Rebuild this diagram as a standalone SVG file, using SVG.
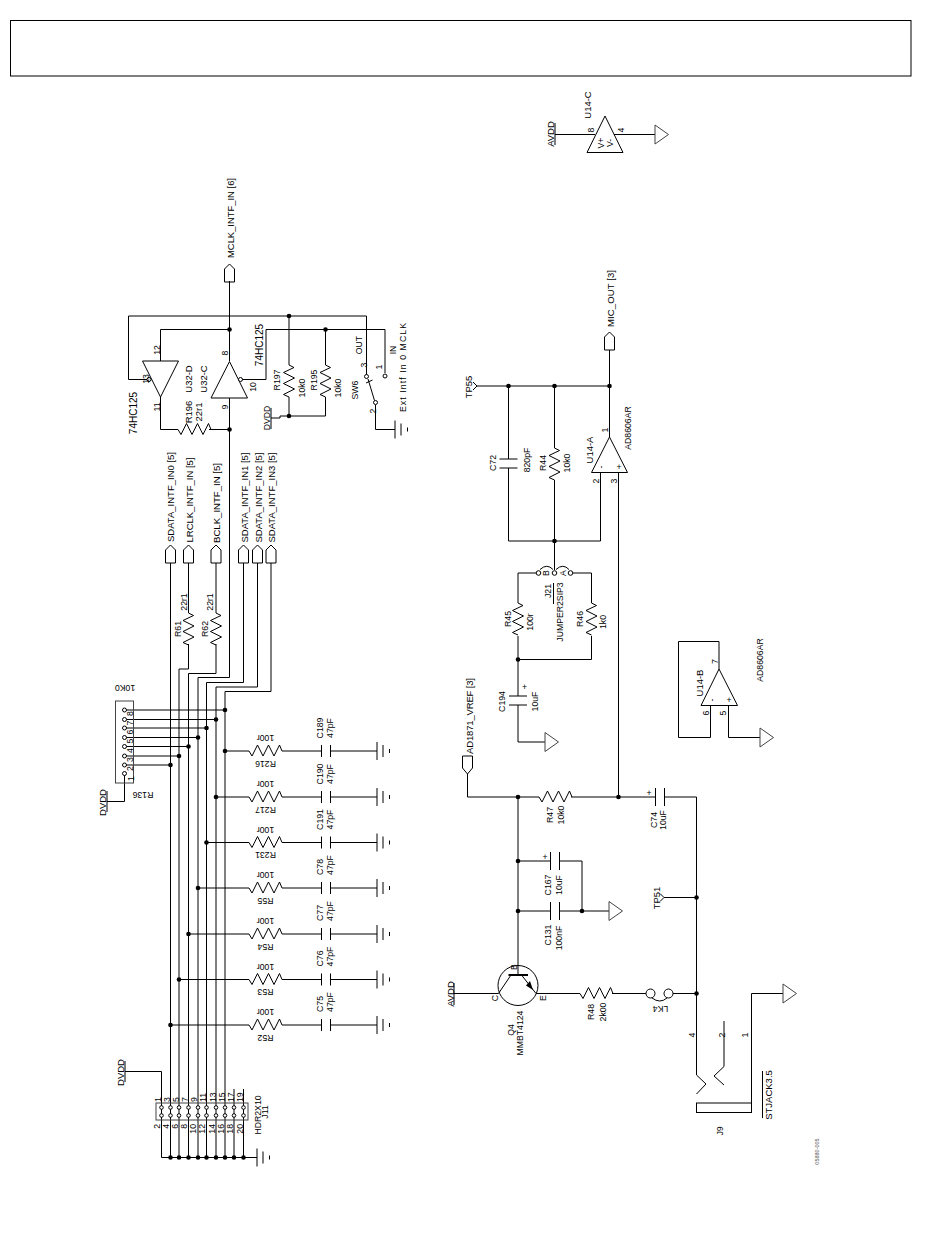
<svg xmlns="http://www.w3.org/2000/svg" width="950" height="1254" viewBox="0 0 950 1254">
<style>
text{font-family:"Liberation Sans",Arial,sans-serif;font-size:9.5px;fill:#000;text-anchor:middle;dominant-baseline:central}
.s{font-size:8.700px}.b{font-size:10px}.xs{font-size:5.500px;fill:#555}
.l,path,line,polyline,rect{fill:none;stroke:#000;stroke-width:1}
.dot{fill:#000;stroke:none}
.pin{fill:#fff;stroke:#000;stroke-width:1}
.gr{stroke:#444}
.thick{stroke-width:2}
</style>
<defs>
<path id="rh" d="M0 0l3 5 5.500-11 5.500 11 5.500-11 5.500 11 5.500-11 2.500 6"/>
<path id="rv" d="M0 0l5 2.500-10.500 5 11 5.500-11 5.500 11 5.500-11 5.500 5.500 2.500"/>
<g id="capS"><line x1="0" y1="-6" x2="0" y2="6"/><line x1="9" y1="-6" x2="9" y2="6"/></g>
<g id="capH"><line x1="0" y1="-9" x2="0" y2="9"/><line x1="9" y1="-9" x2="9" y2="9"/></g>
<g id="capV"><line x1="-9" y1="0" x2="9" y2="0"/><line x1="-9" y1="9" x2="9" y2="9"/></g>
<g id="gnd"><line x1="0" y1="-9" x2="0" y2="9"/><line x1="6" y1="-6" x2="6" y2="6"/><line x1="12.500" y1="-2" x2="12.500" y2="2"/></g>
<path id="tri" class="gr" d="M0-9.500L13.500 0 0 9.500Z"/>
<path id="port" d="M-5 18V5L0 0 5 5V18Z"/>
</defs>

<g id="title-frame"><rect x="10.500" y="20.500" width="900.500" height="55.500" stroke-width="1.500"/></g>

<g id="connectors">
<polyline points="555,134.500 595,134.500"/>
<polyline points="614,134.500 655,134.500"/>
<polyline points="170.500,563 170.500,1157.500"/>
<polyline points="188.500,563 188.500,613"/><polyline points="188.500,644 188.500,669 179,669 179,1157.500"/>
<polyline points="216,563 216,613"/><polyline points="216,644 216,673.500 188.500,673.500 188.500,1157.500"/>
<polyline points="229.500,281 229.500,361"/>
<polyline points="229.500,398 229.500,677.500 198,677.500 198,1157.500"/>
<polyline points="243.500,563 243.500,682.500 206.500,682.500 206.500,1157.500"/>
<polyline points="257.500,563 257.500,687 216,687 216,1157.500"/>
<polyline points="271,563 271,691.500 225,691.500 225,1157.500"/>
<polyline points="234,1089 234,1157.500"/>
<polyline points="243.500,1089 243.500,1157.500"/>
<polyline points="125,1071.500 161.500,1071.500 161.500,1157.500 257,1157.500"/>
<line x1="124.500" y1="710" x2="225" y2="710"/>
<line x1="124.500" y1="719.500" x2="216" y2="719.500"/>
<line x1="124.500" y1="728" x2="206.500" y2="728"/>
<line x1="124.500" y1="737.500" x2="198" y2="737.500"/>
<line x1="124.500" y1="746.500" x2="188.500" y2="746.500"/>
<line x1="124.500" y1="756" x2="179" y2="756"/>
<line x1="124.500" y1="765" x2="170.500" y2="765"/>
<polyline points="107,801.500 124.500,801.500 124.500,775"/>
<path d="M225 751H249M282 751H321.500M330.500 751H377"/>
<path d="M216 797H249M282 797H321.500M330.500 797H377"/>
<path d="M206.500 842.500H249M282 842.500H321.500M330.500 842.500H377"/>
<path d="M198 888H249M282 888H321.500M330.500 888H377"/>
<path d="M188.500 934H249M282 934H321.500M330.500 934H377"/>
<path d="M179 979.500H249M282 979.500H321.500M330.500 979.500H377"/>
<path d="M170.500 1025H249M282 1025H321.500M330.500 1025H377"/>
<polyline points="147,379.500 128.500,379.500 128.500,316 366.500,316 366.500,375"/>
<polyline points="160.500,361 160.500,329.500 229.500,329.500"/>
<polyline points="242,379.500 266,379.500 266,329.500 385,329.500 385,373"/>
<polyline points="160.500,397 160.500,429.500 178,429.500"/>
<polyline points="209,429.500 229.500,429.500"/>
<polyline points="289,316 289,365"/><polyline points="289,397 289,416"/>
<polyline points="325.500,329.500 325.500,365"/><polyline points="325.500,397 325.500,416 289,416 280,416 280,418 271,418"/>
<polyline points="375.500,405 375.500,429.500 395,429.500"/>
<polyline points="477,386 609.500,386"/>
<polyline points="609.500,350 609.500,437"/>
<polyline points="508.500,386 508.500,459"/><polyline points="508.500,468 508.500,541 600.500,541 600.500,472"/>
<polyline points="554.500,386 554.500,448"/><polyline points="554.500,480 554.500,570"/>
<polyline points="618.500,472 618.500,797"/>
<polyline points="536,573 518,573 518,603"/>
<polyline points="573,573 591.500,573 591.500,603"/>
<polyline points="518,636 518,696"/><polyline points="518,705 518,742 545,742"/>
<polyline points="591.500,636 591.500,659.500 518,659.500"/>
<polyline points="719,669 719,641.500 678.500,641.500 678.500,737.500 710.500,737.500 710.500,705"/>
<polyline points="728.500,705 728.500,737.500 760,737.500"/>
<polyline points="467.500,774 467.500,797 539,797"/>
<polyline points="571,797 655.500,797"/>
<polyline points="664.500,797 696.500,797 696.500,1075"/>
<polyline points="518,797 518,975"/>
<polyline points="518,861 550.500,861"/>
<polyline points="559.500,861 582,861 582,911"/>
<polyline points="518,911 550.500,911"/>
<polyline points="559.500,911 609,911"/>
<polyline points="664,897.500 696.500,897.500"/>
<polyline points="454,993.500 498.500,993.500"/>
<polyline points="536,993.500 580,993.500"/>
<polyline points="612,993.500 646,993.500"/>
<polyline points="673,993.500 696.500,993.500"/>
<polyline points="751.500,1103 751.500,993.500 783,993.500"/>
</g>

<g id="dots">
<circle class="dot" cx="225" cy="710" r="2.300"/><circle class="dot" cx="216" cy="719.500" r="2.300"/><circle class="dot" cx="206.500" cy="728" r="2.300"/><circle class="dot" cx="198" cy="737.500" r="2.300"/><circle class="dot" cx="188.500" cy="746.500" r="2.300"/><circle class="dot" cx="179" cy="756" r="2.300"/><circle class="dot" cx="170.500" cy="765" r="2.300"/>
<circle class="dot" cx="225" cy="751" r="2.300"/><circle class="dot" cx="216" cy="797" r="2.300"/><circle class="dot" cx="206.500" cy="842.500" r="2.300"/><circle class="dot" cx="198" cy="888" r="2.300"/><circle class="dot" cx="188.500" cy="934" r="2.300"/><circle class="dot" cx="179" cy="979.500" r="2.300"/><circle class="dot" cx="170.500" cy="1025" r="2.300"/>
<circle class="dot" cx="170.500" cy="1157.500" r="2.300"/><circle class="dot" cx="179" cy="1157.500" r="2.300"/><circle class="dot" cx="188.500" cy="1157.500" r="2.300"/><circle class="dot" cx="198" cy="1157.500" r="2.300"/><circle class="dot" cx="206.500" cy="1157.500" r="2.300"/><circle class="dot" cx="216" cy="1157.500" r="2.300"/><circle class="dot" cx="225" cy="1157.500" r="2.300"/><circle class="dot" cx="234" cy="1157.500" r="2.300"/><circle class="dot" cx="243.500" cy="1157.500" r="2.300"/>
<circle class="dot" cx="229.500" cy="329.500" r="2.300"/><circle class="dot" cx="229.500" cy="429.500" r="2.300"/><circle class="dot" cx="289" cy="316" r="2.300"/><circle class="dot" cx="325.500" cy="329.500" r="2.300"/><circle class="dot" cx="289" cy="416" r="2.300"/>
<circle class="dot" cx="508.500" cy="386" r="2.300"/><circle class="dot" cx="554.500" cy="386" r="2.300"/><circle class="dot" cx="609.500" cy="386" r="2.300"/><circle class="dot" cx="554.500" cy="541" r="2.300"/><circle class="dot" cx="518" cy="659.500" r="2.300"/>
<circle class="dot" cx="518" cy="797" r="2.300"/><circle class="dot" cx="618.500" cy="797" r="2.300"/><circle class="dot" cx="518" cy="861" r="2.300"/><circle class="dot" cx="518" cy="911" r="2.300"/><circle class="dot" cx="582" cy="911" r="2.300"/><circle class="dot" cx="696.500" cy="897.500" r="2.300"/><circle class="dot" cx="696.500" cy="993.500" r="2.300"/>
</g>

<g id="U14-C">
<path d="M605 116L623 152.500H587Z"/>
<line x1="555" y1="123" x2="555" y2="145"/>
<use href="#tri" x="655" y="134.500"/>
<text transform="rotate(-90 550.500 134)" x="550.500" y="134">AVDD</text>
<text transform="rotate(-90 587 105)" x="587" y="105">U14-C</text>
<text class="s" transform="rotate(-90 591 130)" x="591" y="130">8</text>
<text class="s" transform="rotate(-90 621 130)" x="621" y="130">4</text>
<text class="s" transform="rotate(-90 600.500 143)" x="600.500" y="143">V+</text>
<text class="s" transform="rotate(-90 610 143)" x="610" y="143">V-</text>
</g>

<g id="MCLK_INTF_IN"><use href="#port" x="229.500" y="264"/><text textLength="80" lengthAdjust="spacingAndGlyphs" transform="rotate(-90 230 218)" x="230" y="218">MCLK_INTF_IN [6]</text></g>
<g id="SDATA_INTF_IN0"><use href="#port" x="170.500" y="545"/><text textLength="90" lengthAdjust="spacingAndGlyphs" transform="rotate(-90 170.500 497)" x="170.500" y="497">SDATA_INTF_IN0 [5]</text></g>
<g id="LRCLK_INTF_IN"><use href="#port" x="188.500" y="545"/><text textLength="85" lengthAdjust="spacingAndGlyphs" transform="rotate(-90 189 500)" x="189" y="500">LRCLK_INTF_IN [5]</text></g>
<g id="BCLK_INTF_IN"><use href="#port" x="216" y="545"/><text textLength="80" lengthAdjust="spacingAndGlyphs" transform="rotate(-90 216.500 503)" x="216.500" y="503">BCLK_INTF_IN [5]</text></g>
<g id="SDATA_INTF_IN1"><use href="#port" x="243.500" y="545"/><text textLength="90" lengthAdjust="spacingAndGlyphs" transform="rotate(-90 244 497.500)" x="244" y="497.500">SDATA_INTF_IN1 [5]</text></g>
<g id="SDATA_INTF_IN2"><use href="#port" x="257.500" y="545"/><text textLength="90" lengthAdjust="spacingAndGlyphs" transform="rotate(-90 258 497.500)" x="258" y="497.500">SDATA_INTF_IN2 [5]</text></g>
<g id="SDATA_INTF_IN3"><use href="#port" x="271" y="545"/><text textLength="90" lengthAdjust="spacingAndGlyphs" transform="rotate(-90 271.500 497.500)" x="271.500" y="497.500">SDATA_INTF_IN3 [5]</text></g>

<g id="U32-D">
<path d="M142.500 361H178.500L160.500 397Z"/>
<circle class="pin" cx="149" cy="379.500" r="2"/>
<text class="s" transform="rotate(-90 157 350)" x="157" y="350">12</text>
<text class="s" transform="rotate(-90 157 407)" x="157" y="407">11</text>
<text class="s" transform="rotate(-90 146 379)" x="146" y="379">13</text>
<text transform="rotate(-90 188 379)" x="188" y="379">U32-D</text>
<text class="b" transform="rotate(-90 133 413)" x="133" y="413">74HC125</text>
</g>
<g id="U32-C">
<path d="M229.500 361.500L247.500 398H211Z"/>
<circle class="pin" cx="240.500" cy="379.500" r="2"/>
<text class="s" transform="rotate(-90 225 353)" x="225" y="353">8</text>
<text class="s" transform="rotate(-90 225 407)" x="225" y="407">9</text>
<text class="s" transform="rotate(-90 253 387)" x="253" y="387">10</text>
<text transform="rotate(-90 203 379)" x="203" y="379">U32-C</text>
<text class="b" transform="rotate(-90 259 345)" x="259" y="345">74HC125</text>
</g>
<g id="R196"><use href="#rh" x="178" y="429.500"/>
<text transform="rotate(-90 188 412)" x="188" y="412">R196</text>
<text transform="rotate(-90 198 412)" x="198" y="412">22r1</text></g>
<g id="R197"><use href="#rv" x="289" y="365"/>
<text class="s" transform="rotate(-90 277 380)" x="277" y="380">R197</text>
<text class="s" transform="rotate(-90 301.500 388)" x="301.500" y="388">10k0</text></g>
<g id="R195"><use href="#rv" x="325.500" y="365"/>
<text class="s" transform="rotate(-90 314 380)" x="314" y="380">R195</text>
<text class="s" transform="rotate(-90 337.500 388)" x="337.500" y="388">10k0</text></g>
<g id="DVDD-sw"><line x1="271" y1="408" x2="271" y2="429"/><text class="s" transform="rotate(-90 266.500 418)" x="266.500" y="418">DVDD</text></g>
<g id="SW6">
<circle class="pin" cx="366.500" cy="376.500" r="2"/><circle class="pin" cx="385" cy="376" r="2"/><circle class="pin" cx="375.500" cy="402.500" r="2"/>
<line x1="374.500" y1="400.500" x2="368" y2="379"/><path d="M366 383L372.500 380"/>
<use href="#gnd" x="395" y="429.500"/>
<text class="s" transform="rotate(-90 355 390)" x="355" y="390">SW6</text>
<text class="s" transform="rotate(-90 359 345)" x="359" y="345">OUT</text>
<text class="s" transform="rotate(-90 393 350)" x="393" y="350">IN</text>
<text class="s" transform="rotate(-90 364 365)" x="364" y="365">3</text>
<text class="s" transform="rotate(-90 379 367)" x="379" y="367">1</text>
<text class="s" transform="rotate(-90 372.500 411)" x="372.500" y="411">2</text>
<text textLength="89" lengthAdjust="spacing" class="s" transform="rotate(-90 403 367.500)" x="403" y="367.500">Ext Intf In 0 MCLK</text>
</g>
<g id="R61"><use href="#rv" x="188.500" y="613"/><text class="s" transform="rotate(-90 178 629)" x="178" y="629">R61</text><text class="s" transform="rotate(-90 184 602)" x="184" y="602">22r1</text></g>
<g id="R62"><use href="#rv" x="216" y="613"/><text class="s" transform="rotate(-90 205 629)" x="205" y="629">R62</text><text class="s" transform="rotate(-90 210 602)" x="210" y="602">22r1</text></g>

<g id="R136">
<rect class="gr" x="115.500" y="701" width="18" height="82"/>
<circle class="pin" cx="124.500" cy="710" r="2"/><circle class="pin" cx="124.500" cy="719.500" r="2"/><circle class="pin" cx="124.500" cy="728" r="2"/><circle class="pin" cx="124.500" cy="737.500" r="2"/><circle class="pin" cx="124.500" cy="746.500" r="2"/><circle class="pin" cx="124.500" cy="756" r="2"/><circle class="pin" cx="124.500" cy="765" r="2"/><circle class="pin" cx="124.500" cy="773.500" r="2"/>
<text class="s" transform="rotate(-90 129.500 713.500)" x="129.500" y="713.500">8</text>
<text class="s" transform="rotate(-90 129.500 723)" x="129.500" y="723">7</text>
<text class="s" transform="rotate(-90 129.500 732)" x="129.500" y="732">6</text>
<text class="s" transform="rotate(-90 129.500 741)" x="129.500" y="741">5</text>
<text class="s" transform="rotate(-90 129.500 750.500)" x="129.500" y="750.500">4</text>
<text class="s" transform="rotate(-90 129.500 759.500)" x="129.500" y="759.500">3</text>
<text class="s" transform="rotate(-90 129.500 768.500)" x="129.500" y="768.500">2</text>
<text class="s" transform="rotate(-90 131 778.500)" x="131" y="778.500">1</text>
<text class="s" transform="rotate(180 125 688)" x="125" y="688">10K0</text>
<text class="s" transform="rotate(180 143 795)" x="143" y="795">R136</text>
</g>
<g id="DVDD-R136"><line x1="107" y1="791" x2="107" y2="812"/><text transform="rotate(-90 102.500 802.500)" x="102.500" y="802.500">DVDD</text></g>

<g id="R216"><use href="#rh" x="249" y="751"/><use href="#capS" x="321.500" y="751"/><use href="#gnd" x="377" y="751"/>
<text class="s" transform="rotate(180 265.500 738)" x="265.500" y="738">100r</text><text class="s" transform="rotate(180 265.500 763.500)" x="265.500" y="763.500">R216</text>
<text class="s" transform="rotate(-90 320 728)" x="320" y="728">C189</text><text class="s" transform="rotate(-90 329.500 728)" x="329.500" y="728">47pF</text></g>
<g id="R217"><use href="#rh" x="249" y="797"/><use href="#capS" x="321.500" y="797"/><use href="#gnd" x="377" y="797"/>
<text class="s" transform="rotate(180 265.500 784)" x="265.500" y="784">100r</text><text class="s" transform="rotate(180 265.500 809.500)" x="265.500" y="809.500">R217</text>
<text class="s" transform="rotate(-90 320 774)" x="320" y="774">C190</text><text class="s" transform="rotate(-90 329.500 774)" x="329.500" y="774">47pF</text></g>
<g id="R231"><use href="#rh" x="249" y="842.500"/><use href="#capS" x="321.500" y="842.500"/><use href="#gnd" x="377" y="842.500"/>
<text class="s" transform="rotate(180 265.500 829.500)" x="265.500" y="829.500">100r</text><text class="s" transform="rotate(180 265.500 855)" x="265.500" y="855">R231</text>
<text class="s" transform="rotate(-90 320 819.500)" x="320" y="819.500">C191</text><text class="s" transform="rotate(-90 329.500 819.500)" x="329.500" y="819.500">47pF</text></g>
<g id="R55"><use href="#rh" x="249" y="888"/><use href="#capS" x="321.500" y="888"/><use href="#gnd" x="377" y="888"/>
<text class="s" transform="rotate(180 265.500 875)" x="265.500" y="875">100r</text><text class="s" transform="rotate(180 265.500 900.500)" x="265.500" y="900.500">R55</text>
<text class="s" transform="rotate(-90 320 867)" x="320" y="867">C78</text><text class="s" transform="rotate(-90 329.500 865)" x="329.500" y="865">47pF</text></g>
<g id="R54"><use href="#rh" x="249" y="934"/><use href="#capS" x="321.500" y="934"/><use href="#gnd" x="377" y="934"/>
<text class="s" transform="rotate(180 265.500 921)" x="265.500" y="921">100r</text><text class="s" transform="rotate(180 265.500 946.500)" x="265.500" y="946.500">R54</text>
<text class="s" transform="rotate(-90 320 913)" x="320" y="913">C77</text><text class="s" transform="rotate(-90 329.500 911)" x="329.500" y="911">47pF</text></g>
<g id="R53"><use href="#rh" x="249" y="979.500"/><use href="#capS" x="321.500" y="979.500"/><use href="#gnd" x="377" y="979.500"/>
<text class="s" transform="rotate(180 265.500 966.500)" x="265.500" y="966.500">100r</text><text class="s" transform="rotate(180 265.500 992)" x="265.500" y="992">R53</text>
<text class="s" transform="rotate(-90 320 958.500)" x="320" y="958.500">C76</text><text class="s" transform="rotate(-90 329.500 956.500)" x="329.500" y="956.500">47pF</text></g>
<g id="R52"><use href="#rh" x="249" y="1025"/><use href="#capS" x="321.500" y="1025"/><use href="#gnd" x="377" y="1025"/>
<text class="s" transform="rotate(180 265.500 1012)" x="265.500" y="1012">100r</text><text class="s" transform="rotate(180 265.500 1037.500)" x="265.500" y="1037.500">R52</text>
<text class="s" transform="rotate(-90 320 1004)" x="320" y="1004">C75</text><text class="s" transform="rotate(-90 329.500 1002)" x="329.500" y="1002">47pF</text></g>

<g id="J11">
<rect class="gr" x="156" y="1103" width="92" height="17"/>
<g><circle class="pin" cx="161.500" cy="1107.500" r="1.800"/><circle class="pin" cx="170.500" cy="1107.500" r="1.800"/><circle class="pin" cx="179" cy="1107.500" r="1.800"/><circle class="pin" cx="188.500" cy="1107.500" r="1.800"/><circle class="pin" cx="198" cy="1107.500" r="1.800"/><circle class="pin" cx="206.500" cy="1107.500" r="1.800"/><circle class="pin" cx="216" cy="1107.500" r="1.800"/><circle class="pin" cx="225" cy="1107.500" r="1.800"/><circle class="pin" cx="234" cy="1107.500" r="1.800"/><circle class="pin" cx="243.500" cy="1107.500" r="1.800"/></g>
<g><circle class="pin" cx="161.500" cy="1115.500" r="1.800"/><circle class="pin" cx="170.500" cy="1115.500" r="1.800"/><circle class="pin" cx="179" cy="1115.500" r="1.800"/><circle class="pin" cx="188.500" cy="1115.500" r="1.800"/><circle class="pin" cx="198" cy="1115.500" r="1.800"/><circle class="pin" cx="206.500" cy="1115.500" r="1.800"/><circle class="pin" cx="216" cy="1115.500" r="1.800"/><circle class="pin" cx="225" cy="1115.500" r="1.800"/><circle class="pin" cx="234" cy="1115.500" r="1.800"/><circle class="pin" cx="243.500" cy="1115.500" r="1.800"/></g>
<g>
<text class="s" style="text-anchor:start" transform="rotate(-90 158 1102)" x="158" y="1102">1</text>
<text class="s" style="text-anchor:start" transform="rotate(-90 167 1102)" x="167" y="1102">3</text>
<text class="s" style="text-anchor:start" transform="rotate(-90 176 1102)" x="176" y="1102">5</text>
<text class="s" style="text-anchor:start" transform="rotate(-90 185 1102)" x="185" y="1102">7</text>
<text class="s" style="text-anchor:start" transform="rotate(-90 194 1102)" x="194" y="1102">9</text>
<text class="s" style="text-anchor:start" transform="rotate(-90 203 1102)" x="203" y="1102">11</text>
<text class="s" style="text-anchor:start" transform="rotate(-90 212.500 1102)" x="212.500" y="1102">13</text>
<text class="s" style="text-anchor:start" transform="rotate(-90 221.500 1102)" x="221.500" y="1102">15</text>
<text class="s" style="text-anchor:start" transform="rotate(-90 230.500 1102)" x="230.500" y="1102">17</text>
<text class="s" style="text-anchor:start" transform="rotate(-90 239.500 1102)" x="239.500" y="1102">19</text>
<text class="s" style="text-anchor:end" transform="rotate(-90 157 1124)" x="157" y="1124">2</text>
<text class="s" style="text-anchor:end" transform="rotate(-90 166 1124)" x="166" y="1124">4</text>
<text class="s" style="text-anchor:end" transform="rotate(-90 175 1124)" x="175" y="1124">6</text>
<text class="s" style="text-anchor:end" transform="rotate(-90 184 1124)" x="184" y="1124">8</text>
<text class="s" style="text-anchor:end" transform="rotate(-90 193 1124)" x="193" y="1124">10</text>
<text class="s" style="text-anchor:end" transform="rotate(-90 202 1124)" x="202" y="1124">12</text>
<text class="s" style="text-anchor:end" transform="rotate(-90 211.500 1124)" x="211.500" y="1124">14</text>
<text class="s" style="text-anchor:end" transform="rotate(-90 221 1124)" x="221" y="1124">16</text>
<text class="s" style="text-anchor:end" transform="rotate(-90 230 1124)" x="230" y="1124">18</text>
<text class="s" style="text-anchor:end" transform="rotate(-90 239.500 1124)" x="239.500" y="1124">20</text>
</g>
<use href="#gnd" x="257" y="1157.500"/>
<text class="s" transform="rotate(-90 257.500 1115)" x="257.500" y="1115">HDR2X10</text>
<text class="s" transform="rotate(-90 265 1112)" x="265" y="1112">J11</text>
</g>
<g id="DVDD-J11"><line x1="125" y1="1061" x2="125" y2="1082"/><text transform="rotate(-90 120 1072.500)" x="120" y="1072.500">DVDD</text></g>

<g id="TP55"><path d="M477 386L473 382M477 386L473 390"/><text transform="rotate(-90 468 387)" x="468" y="387">TP55</text></g>
<g id="MIC_OUT"><use href="#port" x="609.500" y="332"/><text textLength="57" lengthAdjust="spacing" transform="rotate(-90 610 298.500)" x="610" y="298.500">MIC_OUT [3]</text></g>
<g id="C72"><use href="#capV" x="508.500" y="459"/><text class="s" transform="rotate(-90 492.500 463)" x="492.500" y="463">C72</text><text class="s" transform="rotate(-90 526.500 460)" x="526.500" y="460">820pF</text></g>
<g id="R44"><use href="#rv" x="554.500" y="448"/><text class="s" transform="rotate(-90 543 463)" x="543" y="463">R44</text><text class="s" transform="rotate(-90 566.500 463)" x="566.500" y="463">10k0</text></g>
<g id="U14-A">
<path d="M609.500 437L627.500 472.500H591.500Z"/>
<text class="s" transform="rotate(-90 605 430)" x="605" y="430">1</text>
<text class="s" transform="rotate(-90 596 481)" x="596" y="481">2</text>
<text class="s" transform="rotate(-90 614 481)" x="614" y="481">3</text>
<text class="s" transform="rotate(-90 601 467)" x="601" y="467">-</text>
<text class="s" x="619" y="467">+</text>
<text transform="rotate(-90 589 450)" x="589" y="450">U14-A</text>
<text class="s" transform="rotate(-90 628 428)" x="628" y="428">AD8606AR</text>
</g>
<g id="J21">
<path d="M540 569.500Q547 563 553 569.500M556 569.500Q563 563 569 569.500"/>
<circle class="pin" cx="538.500" cy="573" r="2.300"/><circle class="pin" cx="554.500" cy="573" r="2.300"/><circle class="pin" cx="570.500" cy="573" r="2.300"/>
<text class="s" transform="rotate(-90 546 573)" x="546" y="573">B</text>
<text class="s" transform="rotate(-90 562.500 573)" x="562.500" y="573">A</text>
<line x1="553.500" y1="583" x2="553.500" y2="604"/>
<text class="s" transform="rotate(-90 547.500 591)" x="547.500" y="591">J21</text>
<text class="s" transform="rotate(-90 559.500 612)" x="559.500" y="612">JUMPER2SIP3</text>
</g>
<g id="R45"><use href="#rv" x="518" y="603"/><text class="s" transform="rotate(-90 507.500 619)" x="507.500" y="619">R45</text><text class="s" transform="rotate(-90 530 622)" x="530" y="622">100r</text></g>
<g id="R46"><use href="#rv" x="591.500" y="603"/><text class="s" transform="rotate(-90 580 619)" x="580" y="619">R46</text><text class="s" transform="rotate(-90 603 622)" x="603" y="622">1k0</text></g>
<g id="C194"><use href="#capV" x="518" y="696"/><use href="#tri" x="545" y="742"/>
<text class="s" transform="rotate(-90 501.500 701.500)" x="501.500" y="701.500">C194</text><text class="s" transform="rotate(-90 535 701.500)" x="535" y="701.500">10uF</text><text class="s" x="524.500" y="687">+</text></g>
<g id="AD1871_VREF"><path d="M462.500 756V768L467.500 774 472.500 768V756Z"/><text textLength="76" lengthAdjust="spacing" transform="rotate(-90 469 716)" x="469" y="716">AD1871_VREF [3]</text></g>
<g id="U14-B">
<path d="M719 669L737.500 705.500H701Z"/><use href="#tri" x="760" y="737.500"/>
<text class="s" transform="rotate(-90 714.500 661.500)" x="714.500" y="661.500">7</text>
<text class="s" transform="rotate(-90 705.500 713)" x="705.500" y="713">6</text>
<text class="s" transform="rotate(-90 723 713)" x="723" y="713">5</text>
<text class="s" transform="rotate(-90 711.500 700)" x="711.500" y="700">-</text>
<text class="s" x="729" y="700">+</text>
<text transform="rotate(-90 699.500 683)" x="699.500" y="683">U14-B</text>
<text class="s" transform="rotate(-90 760 660)" x="760" y="660">AD8606AR</text>
</g>
<g id="R47"><use href="#rh" x="539" y="797"/><text class="s" transform="rotate(-90 550 815)" x="550" y="815">R47</text><text class="s" transform="rotate(-90 561 815)" x="561" y="815">10k0</text></g>
<g id="C74"><use href="#capH" x="655.500" y="797"/><text class="s" x="649" y="792.500">+</text><text class="s" transform="rotate(-90 654 820)" x="654" y="820">C74</text><text class="s" transform="rotate(-90 663 820)" x="663" y="820">10uF</text></g>
<g id="C167"><use href="#capH" x="550.500" y="861"/><text class="s" x="545" y="857">+</text><text class="s" transform="rotate(-90 548 885)" x="548" y="885">C167</text><text class="s" transform="rotate(-90 558.500 885)" x="558.500" y="885">10uF</text></g>
<g id="C131"><use href="#capH" x="550.500" y="911"/><use href="#tri" x="609" y="911"/><text class="s" transform="rotate(-90 548 935)" x="548" y="935">C131</text><text class="s" transform="rotate(-90 558.500 938)" x="558.500" y="938">100nF</text></g>
<g id="TP51"><path d="M660 893.500L664 897.500 660 901.500"/><text transform="rotate(-90 656 898)" x="656" y="898">TP51</text></g>
<g id="Q4">
<circle cx="518" cy="985.500" r="20" fill="none" stroke="#000"/>
<line class="thick" x1="508.500" y1="975" x2="528" y2="975"/>
<path d="M511 975L498.500 993.500M521.500 975L536 993.500"/>
<polygon class="dot" points="533,990 526,985.500 530,981"/>
<text class="s" transform="rotate(-90 514 967)" x="514" y="967">B</text>
<text class="s" transform="rotate(-90 495 998)" x="495" y="998">C</text>
<text class="s" transform="rotate(-90 542.500 998)" x="542.500" y="998">E</text>
<text class="s" transform="rotate(-90 511 1030)" x="511" y="1030">Q4</text>
<text class="s" transform="rotate(-90 520 1033)" x="520" y="1033">MMBT4124</text>
</g>
<g id="AVDD-Q4"><line x1="454" y1="983" x2="454" y2="1005"/><text transform="rotate(-90 450.500 994)" x="450.500" y="994">AVDD</text></g>
<g id="R48"><use href="#rh" x="580" y="993.500"/><text class="s" transform="rotate(-90 591 1012)" x="591" y="1012">R48</text><text class="s" transform="rotate(-90 603 1012)" x="603" y="1012">2k00</text></g>
<g id="LK4"><circle cx="650.500" cy="993.500" r="4.500" fill="none" stroke="#000"/><circle cx="668.500" cy="993.500" r="4.500" fill="none" stroke="#000"/><path d="M652 998Q660 1004 667 998"/><text class="s" transform="rotate(180 660.500 1009)" x="660.500" y="1009">LK4</text></g>
<g id="J9">
<path d="M696.500 1075L706 1084 696.500 1094"/>
<path d="M724 1021V1066.500L714 1076 724 1085"/>
<rect x="696.500" y="1103" width="55" height="9.500"/>
<use href="#tri" x="783" y="993.500"/>
<line x1="762.500" y1="1071" x2="762.500" y2="1118"/>
<text class="s" transform="rotate(-90 691.500 1035)" x="691.500" y="1035">4</text>
<text class="s" transform="rotate(-90 721.500 1035)" x="721.500" y="1035">2</text>
<text class="s" transform="rotate(-90 745 1035)" x="745" y="1035">1</text>
<text transform="rotate(-90 768.500 1095)" x="768.500" y="1095">STJACK3.5</text>
<text class="s" transform="rotate(-90 719.500 1131)" x="719.500" y="1131">J9</text>
</g>
<g id="figure-number"><text class="xs" transform="rotate(-90 816.500 1151.500)" x="816.500" y="1151.500">05880-005</text></g>
</svg>
